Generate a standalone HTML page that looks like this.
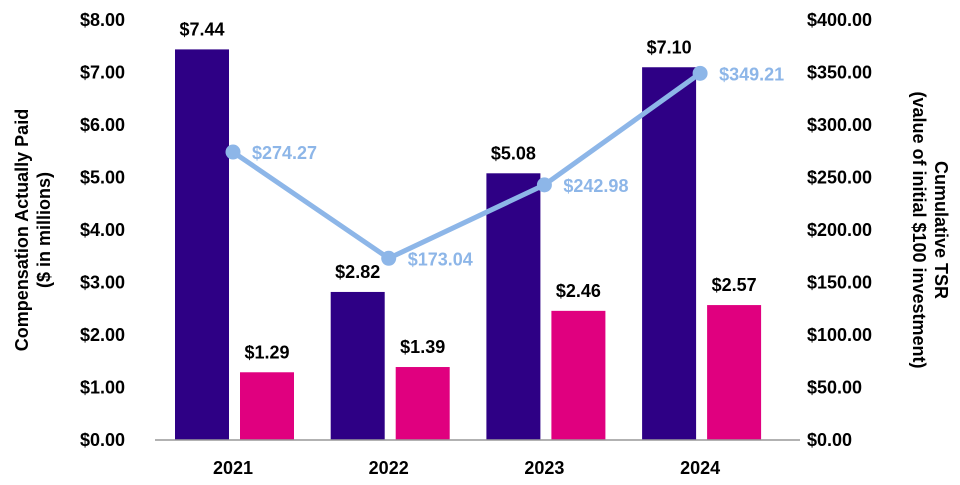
<!DOCTYPE html>
<html><head><meta charset="utf-8"><style>
body{margin:0;background:#fff;}
svg text{font-family:"Liberation Sans",sans-serif;font-weight:bold;}
</style></head><body>
<svg width="960" height="480" xmlns="http://www.w3.org/2000/svg">
<g id="g"></g>
</svg>
<script>
const categories=["2021","2022","2023","2024"];
const capValues=[7.44,2.82,5.08,7.10];
const otherValues=[1.29,1.39,2.46,2.57];
const tsrValues=[274.27,173.04,242.98,349.21];
const leftTicks=[0,1,2,3,4,5,6,7,8];
const rightTicks=[0,50,100,150,200,250,300,350,400];
const NS="http://www.w3.org/2000/svg";
const g=document.getElementById('g');
const y0=440,y1=20;
const yL=v=>y0-(v/8)*(y0-y1);
const yR=v=>y0-(v/400)*(y0-y1);
const xC=i=>233+i*155.7;
function mk(t,a,txt){const e=document.createElementNS(NS,t);for(const k in a)e.setAttribute(k,a[k]);if(txt!==undefined)e.textContent=txt;g.appendChild(e);return e;}
leftTicks.forEach(v=>{const e=mk('text',{x:125,y:yL(v)+6,'text-anchor':'end','font-size':18,fill:'#000'},'$'+v.toFixed(2));

});
rightTicks.forEach(v=>{const e=mk('text',{x:807,y:yR(v)+6,'text-anchor':'start','font-size':18,fill:'#000'},'$'+v.toFixed(2));

});
categories.forEach((c,i)=>{
const x=xC(i);
const b1=mk('rect',{x:x-58,y:yL(capValues[i]),width:54,height:y0-yL(capValues[i]),fill:'#2E0085'});


const t1=mk('text',{x:x-31,y:yL(capValues[i])-14,'text-anchor':'middle','font-size':18,fill:'#000'},'$'+capValues[i].toFixed(2));


const b2=mk('rect',{x:x+7,y:yL(otherValues[i]),width:54,height:y0-yL(otherValues[i]),fill:'#E0007F'});


const t2=mk('text',{x:x+34,y:yL(otherValues[i])-14,'text-anchor':'middle','font-size':18,fill:'#000'},'$'+otherValues[i].toFixed(2));


const yl=mk('text',{x:x,y:474,'text-anchor':'middle','font-size':18,fill:'#000'},c);


});
const ax=mk('line',{x1:155,y1:y0,x2:800,y2:y0,stroke:'#999','stroke-width':1.5});


const pl=mk('polyline',{points:tsrValues.map((v,i)=>xC(i)+','+yR(v)).join(' '),fill:'none',stroke:'#8DB6E8','stroke-width':5});


tsrValues.forEach((v,i)=>{
const c=mk('circle',{cx:xC(i),cy:yR(v),r:7.5,fill:'#8DB6E8'});


const t=mk('text',{x:xC(i)+19,y:yR(v)+7,'font-size':18,fill:'#8DB6E8'},'$'+v.toFixed(2));


});
const lt=mk('text',{transform:'translate(28,230) rotate(-90)','text-anchor':'middle','font-size':18,fill:'#000'});


lt.innerHTML='<tspan x="0" dy="0">Compensation Actually Paid</tspan><tspan x="0" dy="22">($ in millions)</tspan>';
const rt=mk('text',{transform:'translate(935,230) rotate(90)','text-anchor':'middle','font-size':18,fill:'#000'});


rt.innerHTML='<tspan x="0" dy="0">Cumulative TSR</tspan><tspan x="0" dy="22">(value of initial $100 investment)</tspan>';
</script>
</body></html>
